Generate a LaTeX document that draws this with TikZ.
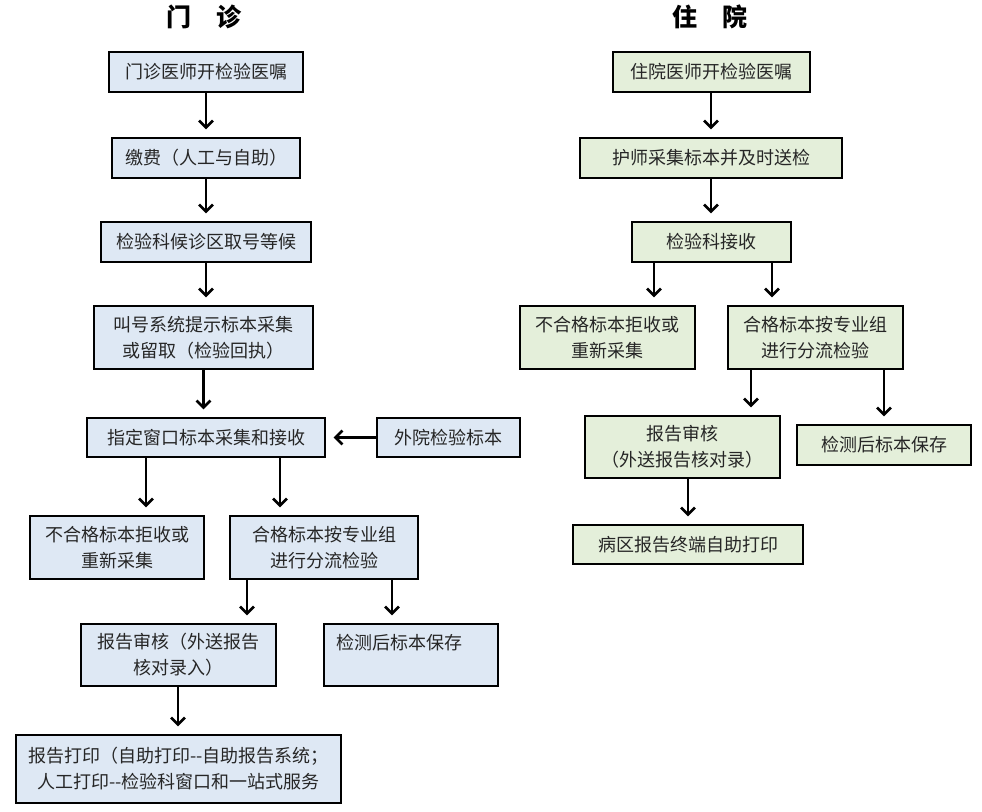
\documentclass[tikz,border=0pt]{standalone}
\usepackage{fontspec}
\setmainfont{Noto Sans CJK SC}
\usetikzlibrary{arrows.meta,calc}
\definecolor{bluefill}{HTML}{DEE8F4}
\definecolor{greenfill}{HTML}{E4EFDA}
\begin{document}
\begin{tikzpicture}[x=1pt,y=-1pt,
  box/.style={draw=black,line width=1.3pt,inner sep=0pt,align=center,
    font=\fontsize{18pt}{26pt}\selectfont,text=black!85},
  bbox/.style={box,fill=bluefill},
  gbox/.style={box,fill=greenfill},
  arr/.style={line width=2.6pt,-{Straight Barb[length=7pt,width=14pt,line width=2.6pt]},shorten >=8pt},
  title/.style={font=\fontsize{25pt}{30pt}\selectfont\bfseries}]
\useasboundingbox (0,0) rectangle (982,811);
\newcommand\bx[6]{\node[#1,minimum width={#4-#2},minimum height={#5-#3}] (#6) at ({(#2+#4)/2},{(#3+#5)/2})}
% titles
\node[title] (t1) at (204,17) {门\hspace{1em}诊};
\node[title] (t2) at (710,17) {住\hspace{1em}院};
% left column
\bx{bbox}{109}{52}{303}{92}{l1} {门诊医师开检验医嘱};
\bx{bbox}{112}{138}{300}{178}{l2} {缴费（人工与自助）};
\bx{bbox}{101}{222}{311}{262}{l3} {检验科候诊区取号等候};
\bx{bbox}{94}{306}{313}{369}{l4} {叫号系统提示标本采集\\或留取（检验回执）};
\bx{bbox}{87}{418}{325}{457}{l5} {指定窗口标本采集和接收};
\bx{bbox}{377}{418}{520}{457}{l6} {外院检验标本};
\bx{bbox}{30}{516}{204}{579}{l7} {不合格标本拒收或\\重新采集};
\bx{bbox}{230}{516}{418}{579}{l8} {合格标本按专业组\\进行分流检验};
\bx{bbox}{81}{624}{276}{686}{l9} {报告审核（外送报告\\核对录入）};
\bx{bbox}{324}{624}{498}{686}{l10} {};
\node[anchor=west,font=\fontsize{18pt}{26pt}\selectfont,text=black!85,inner sep=0pt] (l10t) at ([xshift=13pt,yshift=-19pt]l10.north west) {检测后标本保存};
\bx{bbox}{16}{735}{341}{803}{l11} {报告打印（自助打印-{}-自助报告系统；\\人工打印-{}-检验科窗口和一站式服务};
% right column
\bx{gbox}{613}{52}{810}{92}{r1} {住院医师开检验医嘱};
\bx{gbox}{580}{138}{842}{178}{r2} {护师采集标本并及时送检};
\bx{gbox}{632}{222}{791}{262}{r3} {检验科接收};
\bx{gbox}{520}{306}{695}{369}{r4} {不合格标本拒收或\\重新采集};
\bx{gbox}{728}{306}{903}{369}{r5} {合格标本按专业组\\进行分流检验};
\bx{gbox}{585}{416}{780}{478}{r6} {报告审核\\（外送报告核对录）};
\bx{gbox}{797}{425}{971}{465}{r7} {检测后标本保存};
\bx{gbox}{573}{525}{803}{564}{r8} {病区报告终端自助打印};
% left arrows
\draw[arr] (l1.south) -- (l1.south |- l2.north);
\draw[arr] (l2.south) -- (l2.south |- l3.north);
\draw[arr] (l3.south) -- (l3.south |- l4.north);
\draw[arr] (l4.south) -- (l4.south |- l5.north);
\draw[arr] (l6.west) -- (l5.east);
\draw[arr] ([xshift=-60pt]l5.south) -- ([xshift=-60pt]l5.south |- l7.north);
\draw[arr] ([xshift=74pt]l5.south) -- ([xshift=74pt]l5.south |- l8.north);
\draw[arr] ([xshift=-77pt]l8.south) -- ([xshift=-77pt]l8.south |- l9.north);
\draw[arr] ([xshift=68pt]l8.south) -- ([xshift=68pt]l8.south |- l10.north);
\draw[arr] ([xshift=-0.5pt]l9.south) -- ([xshift=-0.5pt]l9.south |- l11.north);
% right arrows
\draw[arr] ([xshift=-0.5pt]r1.south) -- ([xshift=-0.5pt]r1.south |- r2.north);
\draw[arr] (r2.south) -- (r2.south |- r3.north);
\draw[arr] ([xshift=-57.5pt]r3.south) -- ([xshift=-57.5pt]r3.south |- r4.north);
\draw[arr] ([xshift=60.5pt]r3.south) -- ([xshift=60.5pt]r3.south |- r5.north);
\draw[arr] ([xshift=-64.5pt]r5.south) -- ([xshift=-64.5pt]r5.south |- r6.north);
\draw[arr] ([xshift=68.5pt]r5.south) -- ([xshift=68.5pt]r5.south |- r7.north);
\draw[arr] ([xshift=5.5pt]r6.south) -- ([xshift=5.5pt]r6.south |- r8.north);
\end{tikzpicture}
\end{document}
